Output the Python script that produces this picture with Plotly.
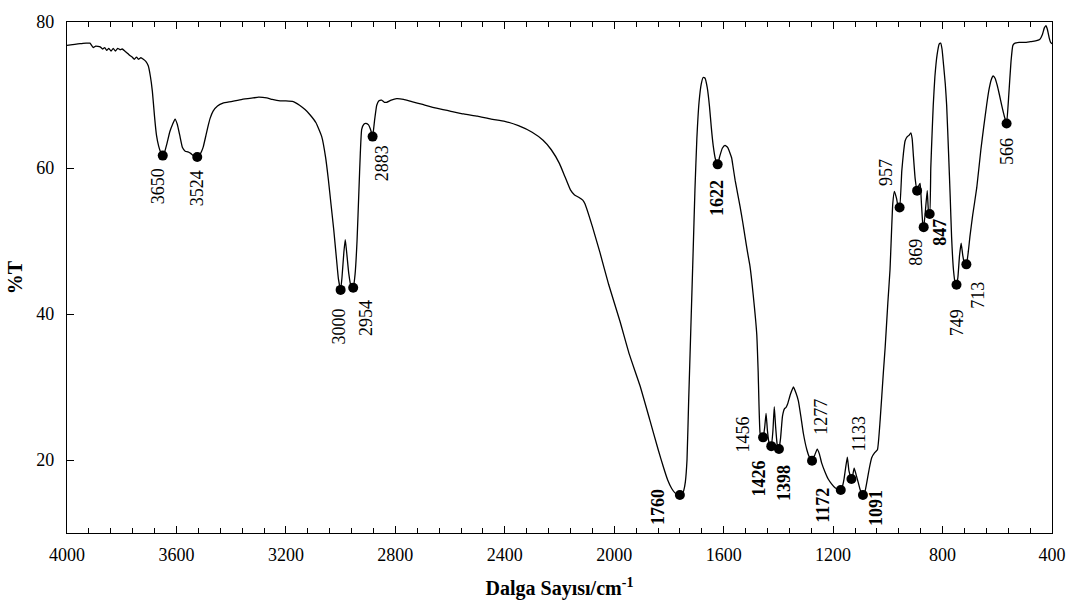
import plotly.graph_objects as go

# ---- spectrum (wavenumber cm-1, %T) ----
wavenumber = [
    4000, 3980, 3960, 3945, 3930, 3916, 3904, 3895, 3879, 3870, 3862, 3855, 3847, 3839, 3831, 3823,
    3815, 3806, 3798, 3788, 3778, 3770, 3762, 3754, 3746, 3739, 3730, 3721, 3712, 3703, 3695, 3688,
    3680, 3673, 3665, 3658, 3650, 3643, 3635, 3624, 3614, 3605, 3597, 3588, 3578, 3568, 3558, 3548,
    3538, 3530, 3524, 3515, 3508, 3502, 3492, 3484, 3477, 3466, 3450, 3430, 3400, 3360, 3320, 3300,
    3270, 3250, 3221, 3200, 3173, 3150, 3130, 3112, 3090, 3069, 3055, 3045, 3035, 3025, 3015, 3008,
    3000, 2995, 2988, 2983, 2978, 2970, 2962, 2954, 2947, 2940, 2933, 2928, 2923, 2915, 2907, 2898,
    2890, 2883, 2876, 2868, 2860, 2850, 2840, 2832, 2815, 2795, 2770, 2740, 2700, 2650, 2600, 2550,
    2500, 2450, 2400, 2350, 2300, 2260, 2230, 2200, 2180, 2160, 2145, 2130, 2115, 2107, 2080, 2052,
    2020, 1979, 1945, 1906, 1870, 1840, 1820, 1805, 1790, 1778, 1768, 1760,
    1752, 1746, 1740, 1734,
    1728, 1720, 1712, 1705, 1698, 1690, 1682, 1675, 1668, 1660, 1652, 1645, 1638, 1630, 1622, 1615,
    1605, 1595, 1585, 1571, 1565, 1558, 1549, 1540, 1530, 1522, 1513, 1504, 1492, 1479, 1474, 1467,
    1462, 1456, 1450, 1445, 1440, 1434, 1426, 1420, 1415, 1410, 1404, 1398, 1392, 1385, 1378, 1372,
    1366, 1356, 1345, 1336, 1327, 1318, 1309, 1296, 1288, 1277, 1268, 1258, 1250, 1242, 1230, 1218,
    1205, 1193, 1182, 1172, 1165, 1160, 1154, 1148, 1142, 1133, 1128, 1123, 1116, 1108, 1100, 1091,
    1084, 1077, 1068, 1059, 1048, 1038, 1028, 1016, 1010, 1000, 992, 982, 976, 968, 963, 957,
    949, 943, 937, 929, 922, 916, 911, 907, 900, 893, 888, 882, 877, 872, 869, 863,
    856, 851, 847, 843, 838, 834, 828, 820, 812, 807, 802, 796, 790, 785, 778, 772,
    767, 760, 754, 749, 744, 738, 732, 726, 720, 713, 706, 700, 690, 675, 660, 650,
    639, 630, 622, 615, 608, 600, 592, 584, 575, 566, 558, 550, 543, 535, 520, 500,
    480, 460, 445, 435, 428, 422, 417, 410, 405, 400,
]
transmittance = [
    76.8, 76.9, 77.0, 77.05, 77.1, 77.1, 76.5, 76.7, 76.6, 76.3, 76.5, 76.1, 76.4, 76.0, 76.4, 76.0,
    76.4, 76.2, 76.3, 76.0, 75.7, 75.4, 75.2, 74.9, 75.2, 74.9, 75.1, 74.9, 74.6, 74.0, 72.5, 70.5,
    67.0, 64.5, 63.0, 62.2, 61.7, 62.2, 63.3, 65.0, 66.0, 66.7, 66.0, 64.5, 62.8, 62.3, 62.2, 62.0,
    61.7, 61.7, 61.5, 61.8, 62.3, 62.9, 64.5, 65.8, 66.8, 67.8, 68.5, 68.9, 69.1, 69.4, 69.6, 69.7,
    69.6, 69.4, 69.2, 69.2, 69.1, 68.6, 68.0, 67.3, 66.2, 64.3, 61.5, 58.5, 55.0, 51.5, 47.5, 44.8,
    43.3, 45.0, 48.5, 50.2, 48.5, 45.5, 43.8, 43.6, 45.5, 50.0, 57.0, 62.0, 65.3, 66.0, 66.1, 65.9,
    65.2, 64.3, 66.5, 68.6, 69.2, 69.3, 69.0, 69.0, 69.3, 69.5, 69.4, 69.1, 68.7, 68.2, 67.8, 67.4,
    67.1, 66.7, 66.4, 65.8, 64.9, 63.8, 62.5, 60.6, 58.8, 57.0, 56.3, 56.0, 55.6, 55.1, 52.0, 48.4,
    44.0, 39.0, 34.5, 30.2, 25.5, 21.5, 19.0, 17.3, 16.1, 15.5, 15.25, 15.2,
    15.3, 15.8, 17.0, 20.0,
    28.0, 38.0, 48.0, 57.0, 64.0, 69.0, 71.5, 72.4, 72.3, 71.0, 68.5, 65.5, 63.0, 61.2, 60.5, 61.5,
    62.7, 63.1, 62.8, 61.4, 60.0, 58.3, 56.5, 54.7, 52.5, 50.6, 48.5, 46.6, 42.6, 37.2, 32.2, 23.7,
    23.2, 23.1, 24.5, 26.4, 24.0, 22.3, 21.9, 24.0, 27.3, 24.5, 22.0, 21.5, 23.0, 26.0, 27.0, 27.2,
    27.7, 29.0, 30.0, 29.2, 28.1, 26.0, 23.7, 21.4, 20.5, 19.9, 20.6, 21.5, 20.8, 19.6, 18.4, 17.4,
    16.7, 16.2, 16.0, 15.9, 16.5, 17.4, 19.0, 20.4, 18.5, 17.4, 18.0, 18.9, 18.0, 16.9, 15.8, 15.2,
    15.6, 16.9, 18.8, 20.3, 21.0, 21.4, 25.5, 32.2, 35.3, 41.5, 46.1, 55.1, 56.8, 55.8, 54.8, 54.6,
    59.6, 62.0, 63.7, 64.3, 64.5, 64.8, 64.0, 61.9, 58.5, 56.9, 57.5, 57.9, 55.0, 52.2, 51.9, 54.0,
    56.9, 53.9, 53.7, 60.0, 65.0, 68.6, 72.5, 75.5, 77.0, 77.1, 76.3, 74.0, 71.5, 68.6, 62.0, 56.0,
    50.6, 46.0, 44.3, 44.0, 45.0, 48.0, 49.7, 48.0, 46.9, 46.8, 48.5, 50.6, 53.5, 57.3, 62.5, 65.5,
    68.6, 70.8, 72.1, 72.6, 72.3, 71.3, 70.0, 68.6, 67.2, 66.1, 70.0, 74.5, 76.8, 77.1, 77.2, 77.2,
    77.3, 77.4, 77.6, 78.3, 79.2, 79.5, 79.0, 77.8, 77.2, 77.0,
]

# ---- marked peaks ----
peak_wn = [3650, 3524, 3000, 2954, 2883, 1760, 1622, 1456, 1426, 1398, 1277, 1172, 1133, 1091,
           957, 893, 869, 847, 749, 713, 566]
peak_T = [61.7, 61.5, 43.3, 43.6, 64.3, 15.2, 60.5, 23.1, 21.9, 21.5, 19.9, 15.9, 17.4, 15.2,
          54.6, 56.9, 51.9, 53.7, 44.0, 46.8, 66.1]
peak_label = ["3650", "3524", "3000", "2954", "2883", "1760", "1622", "1456", "1426", "1398",
              "1277", "1172", "1133", "1091", "957", "", "869", "847", "749", "713", "566"]
peak_bold = [False, False, False, False, False, True, True, False, True, True,
             False, True, False, True, False, False, False, True, False, False, False]

x_ticks = [4000, 3600, 3200, 2800, 2400, 2000, 1600, 1200, 800, 400]
y_ticks = [20, 40, 60, 80]

# label offsets from the dot, in screen pixels (dx right, dy down)
label_offsets = [(-5, 31), (0, 31), (-2, 37), (13, 30), (9, 27), (-22, 12), (0, 34), (-20, -3),
                 (-12, 32), (5, 34), (9, -44), (-18, 15), (8, -45), (13, 13), (-13, -35), (0, 0),
                 (-8, 25), (10, 18), (0, 38), (12, 31), (1, 28)]

FONT = "Liberation Serif"

fig = go.Figure()
fig.add_trace(go.Scatter(x=wavenumber, y=transmittance, mode="lines",
                         line=dict(color="black", width=1.3, shape="spline", smoothing=0.4),
                         showlegend=False, hoverinfo="skip"))
fig.add_trace(go.Scatter(x=peak_wn, y=peak_T, mode="markers",
                         marker=dict(color="black", size=10), showlegend=False, hoverinfo="skip"))

for wn, t, lab, bold, (dx, dy) in zip(peak_wn, peak_T, peak_label, peak_bold, label_offsets):
    if not lab:
        continue
    fig.add_annotation(x=wn, y=t, text=f"<b>{lab}</b>" if bold else lab, showarrow=False,
                       textangle=-90, xanchor="center", yanchor="middle",
                       xshift=dx, yshift=-dy, font=dict(family=FONT, size=18, color="black"))

axis_common = dict(tickcolor="black", showline=True, linecolor="black", linewidth=1.3,
                   showgrid=False, zeroline=False)

fig.update_layout(
    width=1081, height=608,
    margin=dict(l=67, r=29, t=16, b=73),
    paper_bgcolor="white", plot_bgcolor="white",
    font=dict(family=FONT, size=18, color="black"),
    xaxis=dict(range=[4000, 400], tickvals=x_ticks, ticks="inside", ticklen=7, tickwidth=1,
               mirror=True, ticklabelstandoff=5,
               tickfont=dict(family=FONT, size=18),
               minor=dict(dtick=80, tick0=4000, ticks="inside", ticklen=5, tickcolor="black",
                          showgrid=False),
               title=dict(text="<b>Dalga Sayısı/cm<sup>-1</sup></b>",
                          font=dict(family=FONT, size=20), standoff=17),
               **axis_common),
    xaxis2=dict(range=[4000, 400], overlaying="x", side="top", tickvals=x_ticks,
                ticks="inside", ticklen=7, tickwidth=1, showticklabels=False,
                minor=dict(dtick=80, tick0=4000, ticks="inside", ticklen=5, tickcolor="black",
                           showgrid=False),
                **axis_common),
    yaxis=dict(range=[10, 80], tickvals=y_ticks, ticks="inside", ticklen=7, tickwidth=1,
               mirror=True, ticklabelstandoff=8,
               tickfont=dict(family=FONT, size=18),
               title=dict(text="<b>%T</b>", font=dict(family=FONT, size=20), standoff=8),
               **axis_common),
)
# invisible trace to activate the top axis
fig.add_trace(go.Scatter(x=[4000, 400], y=[None, None], xaxis="x2", mode="lines",
                         showlegend=False, hoverinfo="skip"))

fig.write_html("out.html")
